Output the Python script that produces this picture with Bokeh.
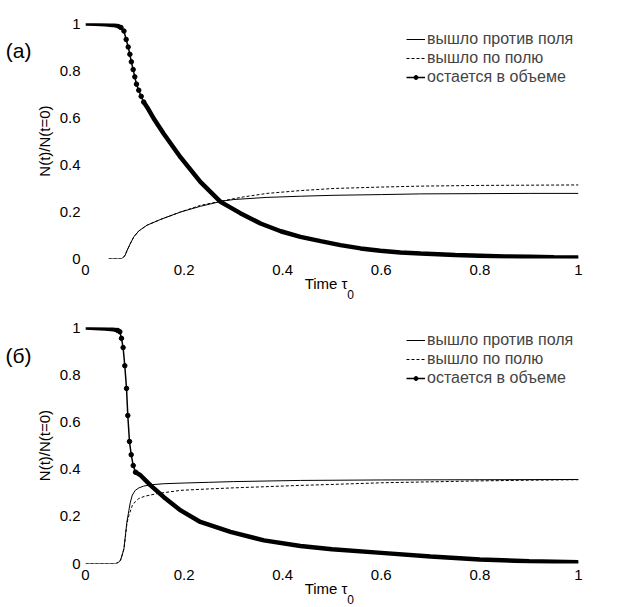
from bokeh.plotting import figure
from bokeh.layouts import column
from bokeh.models import (Range1d, FixedTicker, CustomJSTickFormatter,
                          Legend, LegendItem, LinearAxis)
from bokeh.embed import file_html
from bokeh.resources import INLINE

FONT = "Liberation Sans"

# ---------------- data: panel (а) ----------------
a_bold_t = [0.0, 0.02, 0.04, 0.055, 0.065, 0.072,
            0.078, 0.0825, 0.0866, 0.090, 0.093, 0.0967, 0.100, 0.1034, 0.108, 0.113, 0.118,
            0.125, 0.14, 0.159, 0.193, 0.233, 0.274, 0.314, 0.355, 0.396,
            0.436, 0.477, 0.517, 0.558, 0.598, 0.639, 0.68, 0.75, 0.80, 0.85, 0.90, 0.95, 1.0]
a_bold_n = [1.0, 0.999, 0.997, 0.994, 0.990, 0.983,
            0.968, 0.932, 0.900, 0.869, 0.837, 0.804, 0.773, 0.742, 0.716, 0.690, 0.666,
            0.644, 0.590, 0.530, 0.430, 0.326, 0.241, 0.193, 0.149, 0.116,
            0.092, 0.074, 0.057, 0.043, 0.033, 0.026, 0.021, 0.015, 0.012, 0.009, 0.007, 0.005, 0.004]
a_steep = (5, 16)   # first / last index of the dotted steep part

a_against_t = [0.047, 0.074, 0.080, 0.0845, 0.091, 0.098, 0.108, 0.125, 0.152, 0.193,
               0.233, 0.277, 0.301, 0.368, 0.436, 0.504, 0.60, 0.68, 0.80, 0.90, 1.0]
a_against_n = [0.0, 0.0, 0.012, 0.035, 0.064, 0.092, 0.117, 0.142, 0.166, 0.198,
               0.222, 0.244, 0.251, 0.260, 0.265, 0.269, 0.272, 0.275, 0.276, 0.277, 0.277]

a_along_t = [0.047, 0.074, 0.080, 0.0845, 0.091, 0.098, 0.108, 0.125, 0.152, 0.193,
             0.233, 0.277, 0.32, 0.368, 0.436, 0.504, 0.60, 0.68, 0.80, 0.90, 1.0]
a_along_n = [0.0, 0.0, 0.012, 0.035, 0.064, 0.092, 0.117, 0.142, 0.166, 0.198,
             0.226, 0.245, 0.262, 0.277, 0.289, 0.298, 0.304, 0.308, 0.311, 0.312, 0.313]

# ---------------- data: panel (б) ----------------
b_bold_t = [0.0, 0.02, 0.04, 0.057, 0.065,
            0.0696, 0.0730, 0.0763, 0.0797, 0.0832, 0.0858, 0.0892, 0.0927, 0.0968, 0.1014,
            0.112, 0.132, 0.159, 0.193, 0.233, 0.294, 0.362, 0.436, 0.50, 0.60, 0.70,
            0.80, 0.90, 1.0]
b_bold_n = [1.0, 0.998, 0.996, 0.992, 0.988,
            0.982, 0.954, 0.915, 0.838, 0.742, 0.627, 0.517, 0.461, 0.415, 0.387,
            0.373, 0.331, 0.281, 0.225, 0.176, 0.134, 0.098, 0.074, 0.060, 0.045, 0.030,
            0.017, 0.010, 0.005]
b_steep = (4, 14)

b_against_t = [0.0, 0.061, 0.066, 0.071, 0.075, 0.078, 0.081, 0.084, 0.088, 0.091,
               0.095, 0.101, 0.108, 0.118, 0.135, 0.159, 0.20, 0.25, 0.30, 0.436,
               0.60, 0.80, 1.0]
b_against_n = [0.0, 0.0, 0.003, 0.014, 0.040, 0.063, 0.120, 0.176, 0.225, 0.260,
               0.290, 0.310, 0.320, 0.328, 0.334, 0.338, 0.341, 0.344, 0.347, 0.352,
               0.354, 0.355, 0.356]

b_along_t = [0.0, 0.061, 0.066, 0.071, 0.075, 0.078, 0.081, 0.084, 0.088, 0.095,
             0.101, 0.108, 0.12, 0.145, 0.193, 0.25, 0.294, 0.36, 0.436, 0.50,
             0.60, 0.70, 0.80, 0.90, 1.0]
b_along_n = [0.0, 0.0, 0.003, 0.014, 0.040, 0.063, 0.115, 0.170, 0.204, 0.246,
             0.262, 0.275, 0.285, 0.296, 0.310, 0.316, 0.320, 0.325, 0.331, 0.335,
             0.342, 0.346, 0.350, 0.353, 0.355]

x_ticks = [0, 0.2, 0.4, 0.6, 0.8, 1]
y_ticks = [0, 0.2, 0.4, 0.6, 0.8, 1]
legend_labels = ["вышло против поля", "вышло по полю", "остается в объеме"]
panel_names = ["(а)", "(б)"]
x_title = "Time τ"
x_title_sub = "0"
y_title = "N(t)/N(t=0)"


def const_axis(tick, text, size, standoff):
    ax = LinearAxis(ticker=FixedTicker(ticks=[tick]),
                    formatter=CustomJSTickFormatter(code="return %r;" % text))
    ax.axis_line_color = None
    ax.major_tick_line_color = None
    ax.minor_tick_line_color = None
    ax.major_tick_in = 0
    ax.major_tick_out = 0
    ax.minor_tick_in = 0
    ax.minor_tick_out = 0
    ax.major_label_text_font = FONT
    ax.major_label_text_font_size = size
    ax.major_label_text_color = "black"
    ax.major_label_standoff = standoff
    return ax


def make_panel(bold_t, bold_n, steep, ag_t, ag_n, al_t, al_n, name,
               top_border, frame_h, bottom_border, legend_vy, name_y):
    p = figure(output_backend="svg", toolbar_location=None,
               frame_width=493, frame_height=frame_h,
               min_border_left=85, min_border_right=53,
               min_border_top=top_border, min_border_bottom=bottom_border,
               x_range=Range1d(0, 1), y_range=Range1d(0, 1))
    p.outline_line_color = None
    p.grid.visible = False
    p.background_fill_color = "white"
    p.border_fill_color = "white"
    fmt = CustomJSTickFormatter(code="return tick.toString();")
    for ax, ticks in ((p.xaxis[0], x_ticks), (p.yaxis[0], y_ticks)):
        ax.ticker = FixedTicker(ticks=ticks)
        ax.formatter = fmt
        ax.axis_line_color = None
        ax.major_tick_line_color = None
        ax.minor_tick_line_color = None
        ax.major_tick_in = 0
        ax.major_tick_out = 0
        ax.minor_tick_in = 0
        ax.minor_tick_out = 0
        ax.major_label_text_font = FONT
        ax.major_label_text_font_size = "15px"
        ax.major_label_text_color = "black"
    p.xaxis.major_label_standoff = 6
    p.yaxis.major_label_standoff = 5
    p.yaxis.axis_label = y_title
    p.yaxis.axis_label_text_font = FONT
    p.yaxis.axis_label_text_font_size = "15px"
    p.yaxis.axis_label_text_font_style = "normal"
    p.yaxis.axis_label_text_color = "black"
    p.yaxis.axis_label_standoff = 4

    # panel name and x title as label-only axes
    p.add_layout(const_axis(name_y, name, "21px", 1), "left")
    p.add_layout(const_axis(0.488, x_title, "15px", -3), "below")
    p.add_layout(const_axis(0.5375, x_title_sub, "12px", -5), "below")

    s0, s1 = steep
    r_ag = p.line(ag_t, ag_n, line_color="black", line_width=1)
    r_al = p.line(al_t, al_n, line_color="black", line_width=1, line_dash="3 2")
    r_bold = p.line(bold_t, bold_n, line_color="black", line_width=1.5)
    p.line(bold_t[:s0 + 1], bold_n[:s0 + 1], line_color="black", line_width=4.5)
    p.line(bold_t[s1:], bold_n[s1:], line_color="black", line_width=4.5)
    r_dot = p.scatter(bold_t[s0:s1 + 1], bold_n[s0:s1 + 1], marker="circle",
                      size=4.5, fill_color="black", line_color="black")

    legend = Legend(items=[LegendItem(label=legend_labels[0], renderers=[r_ag]),
                           LegendItem(label=legend_labels[1], renderers=[r_al]),
                           LegendItem(label=legend_labels[2], renderers=[r_bold, r_dot])],
                    location=(321, legend_vy), orientation="vertical",
                    padding=0, margin=0, spacing=0,
                    glyph_width=19, glyph_height=10, label_height=19,
                    label_standoff=2, border_line_color=None,
                    background_fill_alpha=0,
                    label_text_font=FONT, label_text_font_size="16px",
                    label_text_baseline="middle")
    p.add_layout(legend)
    return p


p1 = make_panel(a_bold_t, a_bold_n, a_steep, a_against_t, a_against_n,
                a_along_t, a_along_n, panel_names[0],
                top_border=23, frame_h=235, bottom_border=45, legend_vy=172,
                name_y=0.886)
p2 = make_panel(b_bold_t, b_bold_n, b_steep, b_against_t, b_against_n,
                b_along_t, b_along_n, panel_names[1],
                top_border=24, frame_h=236, bottom_border=36, legend_vy=176,
                name_y=0.88)

layout = column(p1, p2, spacing=0)
open("out.html", "w").write(file_html(layout, INLINE))
